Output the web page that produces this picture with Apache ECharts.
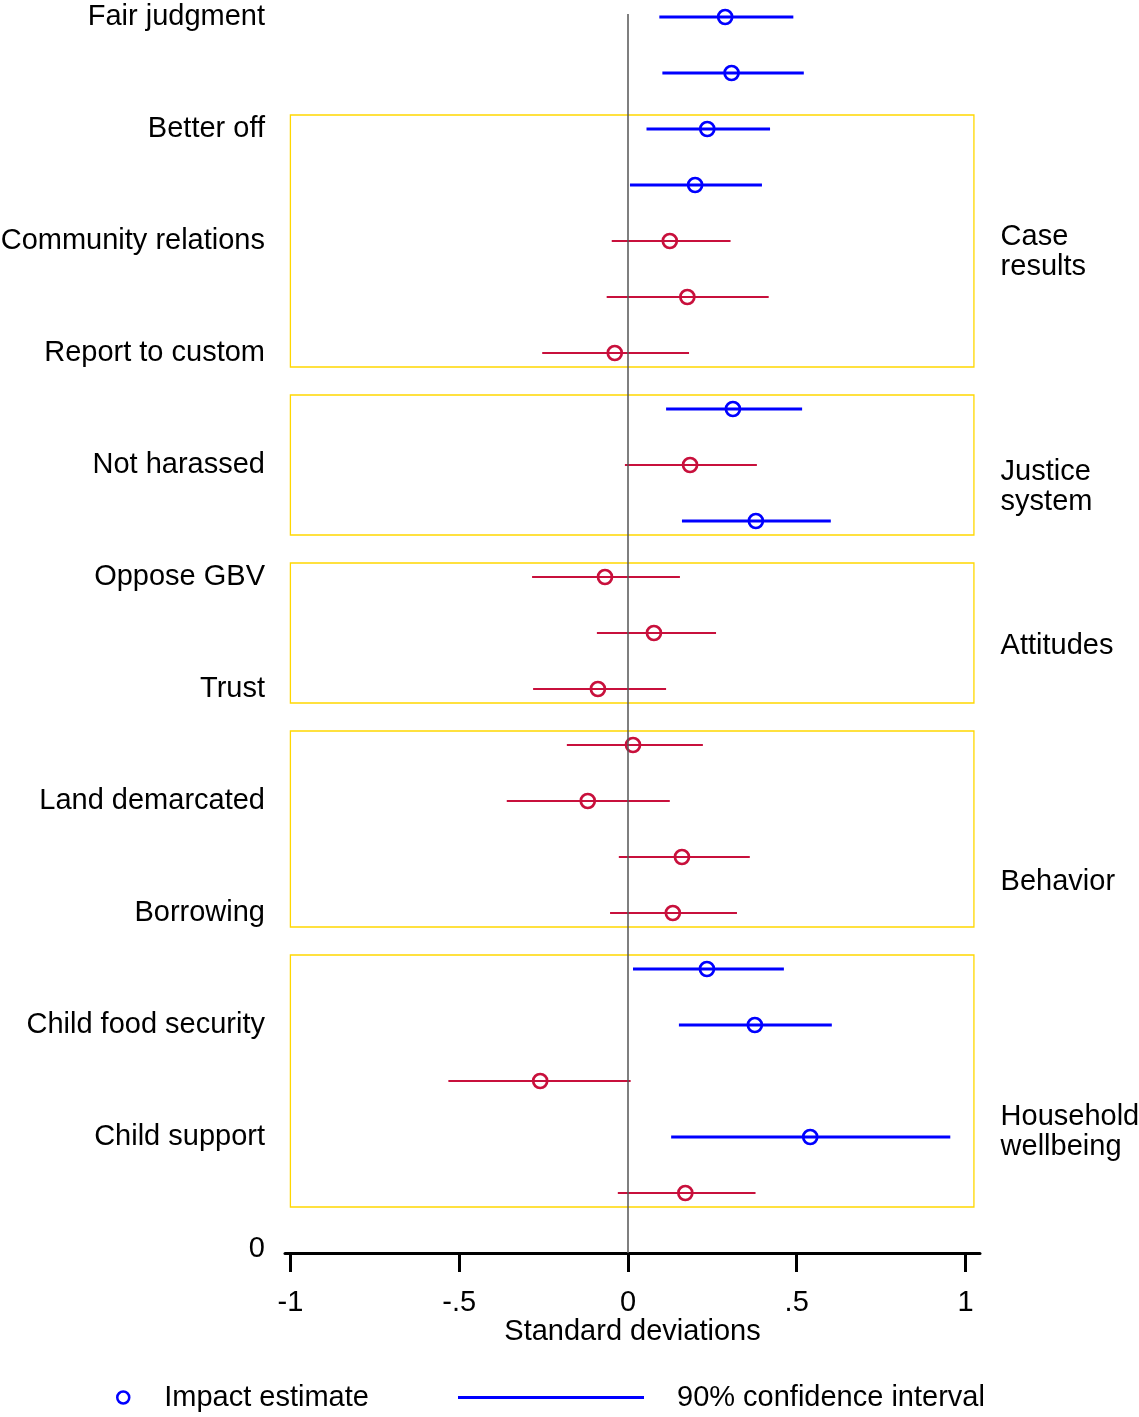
<!DOCTYPE html>
<html>
<head>
<meta charset="utf-8">
<script src="https://cdn.jsdelivr.net/npm/echarts@6/dist/echarts.min.js"></script>
<style>
html,body{margin:0;padding:0;background:#fff;}
#chart{width:1139px;height:1417px;}
</style>
</head>
<body>
<div id="chart"></div>
<script>
// ---- data ----
const rowPos = [22,21,20,19,18,17,16,15,14,13,12,11,10,9,8,7,6,5,4,3,2,1];
const estimate = [0.288,0.307,0.235,0.199,0.124,0.176,-0.039,0.311,0.184,0.379,-0.068,0.077,-0.089,0.015,-0.119,0.160,0.133,0.234,0.376,-0.260,0.540,0.170];
const ciLow  = [0.093,0.102,0.055,0.006,-0.048,-0.063,-0.254,0.113,-0.009,0.160,-0.284,-0.092,-0.281,-0.181,-0.359,-0.027,-0.053,0.015,0.151,-0.532,0.128,-0.030];
const ciHigh = [0.490,0.521,0.421,0.397,0.304,0.417,0.181,0.516,0.382,0.601,0.154,0.261,0.113,0.222,0.124,0.361,0.323,0.462,0.604,0.008,0.955,0.378];
const significant = [1,1,1,1,0,0,0,1,0,1,0,0,0,0,0,0,0,1,1,0,1,0];

const yTickValues = [22,20,18,16,14,12,10,8,6,4,2,0];
const yTickLabels = ['Fair judgment','Better off','Community relations','Report to custom','Not harassed','Oppose GBV','Trust','Land demarcated','Borrowing','Child food security','Child support','0'];

const xTickValues = [-1,-0.5,0,0.5,1];
const xTickLabels = ['-1','-.5','0','.5','1'];

const groupNames = ['Case\nresults','Justice\nsystem','Attitudes','Behavior','Household\nwellbeing'];
const groupFirstRow = [20,15,12,9,5];
const groupLastRow = [16,13,10,6,1];
const groupLabelY = [17.80,13.60,10.76,6.56,2.09];

// ---- styles ----
const BLUE = '#0000ff';
const RED = '#c8103c';
const FONT = "'Liberation Sans', Arial, sans-serif";
const FS = 29;

const yLabelMap = {};
yTickValues.forEach((v,i)=>{ yLabelMap[v] = yTickLabels[i]; });
const xLabelMap = {};
xTickValues.forEach((v,i)=>{ xLabelMap[String(v)] = xTickLabels[i]; });

const ciData = rowPos.map((y,i)=>[ciLow[i], ciHigh[i], y, significant[i]]);
const pointData = rowPos.map((y,i)=>({
  value:[estimate[i], y],
  itemStyle:{color:'rgba(0,0,0,0)', opacity:1, borderColor: significant[i] ? BLUE : RED, borderWidth: 2.7}
}));
const boxData = groupNames.map((n,i)=>[
  {xAxis:-1, yAxis:groupFirstRow[i]+0.25},
  {xAxis:1.025, yAxis:groupLastRow[i]-0.25}
]);
const groupLabelData = groupNames.map((n,i)=>({name:n, value:[1.104, groupLabelY[i]]}));

const chart = echarts.init(document.getElementById('chart'), null, {renderer:'canvas'});
chart.setOption({
  animation:false,
  backgroundColor:'#fff',
  textStyle:{fontFamily:FONT, color:'#000'},
  grid:{left:285, right:159, top:14, bottom:164, containLabel:false, outerBoundsMode:'none'},
  xAxis:{
    type:'value', min:-1.016, max:1.043,
    name:'Standard deviations', nameLocation:'middle', nameGap:64, nameMoveOverlap:false,
    nameTextStyle:{fontSize:FS, color:'#000', fontFamily:FONT},
    axisLine:{show:true, onZero:false, lineStyle:{color:'#000', width:3}},
    axisTick:{show:true, customValues:xTickValues, length:19, lineStyle:{color:'#000', width:3}},
    axisLabel:{show:true, customValues:xTickValues, margin:35, fontSize:FS, color:'#000', fontFamily:FONT,
      formatter:(v)=> xLabelMap[String(v)] !== undefined ? xLabelMap[String(v)] : ''},
    splitLine:{show:false}
  },
  yAxis:{
    type:'value', min:-0.0714, max:22.054,
    axisLine:{show:false}, axisTick:{show:false}, splitLine:{show:false},
    axisLabel:{show:true, customValues:yTickValues, margin:20, fontSize:FS, color:'#000', fontFamily:FONT,
      formatter:(v)=> yLabelMap[v] !== undefined ? yLabelMap[v] : ''}
  },
  legend:[
    {
      data:[{name:'Impact estimate', icon:'circle', itemStyle:{color:'rgba(0,0,0,0)', borderColor:BLUE, borderWidth:2.5}}],
      left:111, top:1378, itemWidth:12, itemHeight:12, selectedMode:false,
      textStyle:{fontSize:FS, color:'#000', fontFamily:FONT, padding:[0,0,0,30]}
    },
    {
      data:[{name:'90% confidence interval', icon:'rect', itemStyle:{color:BLUE, borderWidth:0}}],
      left:453, top:1378, itemWidth:186, itemHeight:3, selectedMode:false,
      textStyle:{fontSize:FS, color:'#000', fontFamily:FONT, padding:[0,0,0,28]}
    }
  ],
  series:[
    {
      name:'90% confidence interval',
      type:'custom',
      data:ciData,
      encode:{x:[0,1], y:2},
      renderItem:(params, api)=>{
        const y = api.value(2);
        const p1 = api.coord([api.value(0), y]);
        const p2 = api.coord([api.value(1), y]);
        const sig = api.value(3);
        return {type:'line', shape:{x1:p1[0], y1:p1[1], x2:p2[0], y2:p2[1]},
          style:{stroke: sig ? BLUE : RED, lineWidth: sig ? 3 : 2}};
      },
      markLine:{
        silent:true, symbol:['none','none'], label:{show:false},
        lineStyle:{color:'#555', width:1.5, type:'solid'},
        data:[{xAxis:0}]
      },
      markArea:{
        silent:true, label:{show:false},
        itemStyle:{color:'rgba(0,0,0,0)', borderColor:'#ffd700', borderWidth:1.3},
        data:boxData
      },
      z:2
    },
    {
      name:'Impact estimate',
      type:'scatter',
      symbol:'circle', symbolSize:14,
      itemStyle:{opacity:1},
      data:pointData,
      z:3
    },
    {
      name:'groups',
      type:'scatter',
      symbolSize:0,
      clip:false,
      silent:true,
      itemStyle:{opacity:1},
      data:groupLabelData,
      label:{show:true, position:'right', distance:0, formatter:(p)=>p.name,
        fontSize:FS, lineHeight:30, color:'#000', opacity:1, fontFamily:FONT, align:'left', verticalAlign:'middle'}
    }
  ]
});
</script>
</body>
</html>
